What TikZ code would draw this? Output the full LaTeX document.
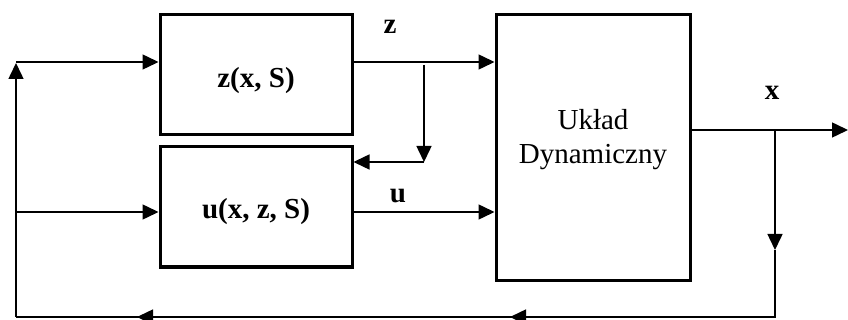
\documentclass[tikz,border=0pt]{standalone}
\usepackage{fontspec}
\setmainfont{Liberation Serif}
\usetikzlibrary{arrows.meta}
\begin{document}
\begin{tikzpicture}[x=1pt,y=-1pt,
  blk/.style={draw, line width=3pt, inner sep=0pt},
  conn/.style={line width=1.5pt},
  arr/.style={conn, -{Triangle[length=16pt,width=15pt]}},
  lbl/.style={font=\fontsize{29}{34}\selectfont\bfseries, inner sep=0pt},
  txt/.style={font=\fontsize{29}{34}\selectfont, inner sep=0pt, align=center}]
\useasboundingbox (0,0) rectangle (848,320);
% blocks
\node[blk, minimum width=192pt, minimum height=120pt] (zb) at (256,75) {};
\node[blk, minimum width=192pt, minimum height=120pt] (ub) at (256,207) {};
\node[blk, minimum width=194pt, minimum height=265pt] (ud) at (593,147.5) {};
% texts
\node[lbl] (zt) at (256,81) {z(x, S)};
\node[lbl] (ut) at (256,212) {u(x, z, S)};
\node[txt] (udt) at (593,140) {Układ\\Dynamiczny};
\node[lbl] (zl) at (390,27) {z};
\node[lbl] (ul) at (398,196) {u};
\node[lbl] (xl) at (772,93) {x};
% coordinates
\coordinate (tl) at (16,62);
\coordinate (ml) at (16,212);
\coordinate (bl) at (16,317);
\coordinate (br) at (775,317);
\coordinate (xb) at (775,130);
\coordinate (xend) at (848,130);
\coordinate (zs) at (424,65);
\coordinate (zc) at (424,162);
\coordinate (xm) at (775,250);
\coordinate (b1) at (510,317);
\coordinate (b2) at (137,317);
% connectors
\draw[arr] (tl) -- (zb.west |- tl);
\draw[arr] (ml) -- (ub.west |- ml);
\draw[arr] (zb.east |- tl) -- (ud.west |- tl);
\draw[arr] (ub.east |- ml) -- (ud.west |- ml);
\draw[arr] (zs) -- (zc);
\draw[arr] (zc) -- (ub.east |- zc);
\draw[arr] (ud.east |- xb) -- (xend);
\draw[arr] (xb) -- (xm);
\draw[conn] (xm) -- (br) -- (bl);
\draw[arr] (br) -- (b1);
\draw[arr] (b1) -- (b2);
\draw[arr] (bl) -- ([yshift=-1pt]tl);
\end{tikzpicture}
\end{document}
